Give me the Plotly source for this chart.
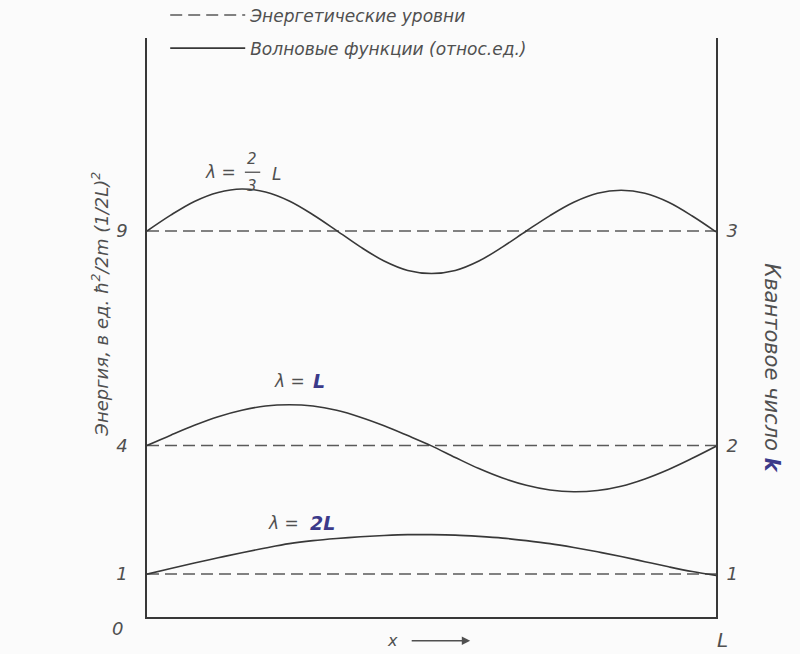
import plotly.graph_objects as go

# ---- data ----
x_pos = [0.0, 0.0417, 0.0833, 0.125, 0.1667, 0.2083, 0.25, 0.2917, 0.3333,
         0.375, 0.4167, 0.4583, 0.5, 0.5417, 0.5833, 0.625, 0.6667, 0.7083,
         0.75, 0.7917, 0.8333, 0.875, 0.9167, 0.9583, 1.0]
psi_n1 = [1.00, 1.13, 1.26, 1.38, 1.50, 1.61, 1.71, 1.78, 1.83, 1.87, 1.90, 1.92,
          1.92, 1.91, 1.88, 1.84, 1.78, 1.71, 1.62, 1.52, 1.41, 1.29, 1.17, 1.06, 0.97]
psi_n2 = [4.00, 4.24, 4.47, 4.67, 4.82, 4.92, 4.95, 4.92, 4.82, 4.66, 4.46, 4.23,
          3.99, 3.72, 3.46, 3.24, 3.07, 2.96, 2.92, 2.95, 3.05, 3.22, 3.44, 3.70, 3.98]
psi_n3 = [9.00, 9.37, 9.69, 9.90, 9.98, 9.91, 9.70, 9.38, 9.01, 8.63, 8.30, 8.08,
          8.01, 8.08, 8.30, 8.63, 9.00, 9.36, 9.67, 9.88, 9.95, 9.88, 9.67, 9.35, 8.98]
energy_levels = [1, 4, 9]
quantum_numbers = ["1", "2", "3"]
x_ends = [0.0, 1.0]

LINE = "#383838"
TXT = "#505050"
INK = "#3b3a8a"
FONT = "DejaVu Sans"

fig = go.Figure()

# energy levels (dashed)
for i, E in enumerate(energy_levels):
    fig.add_trace(go.Scatter(
        x=x_ends, y=[E, E], mode="lines",
        line=dict(color="#5a5a5a", width=1.5, dash="12px,6px"),
        name="Энергетические уровни", legendgroup="levels",
        showlegend=(i == 0), hoverinfo="skip"))

# wave functions (solid)
for i, psi in enumerate([psi_n1, psi_n2, psi_n3]):
    fig.add_trace(go.Scatter(
        x=x_pos, y=psi, mode="lines", line_shape="spline",
        line=dict(color=LINE, width=1.6),
        name="Волновые функции (относ.ед.)", legendgroup="waves",
        showlegend=(i == 0)))

# invisible trace to activate right axis
fig.add_trace(go.Scatter(x=[None], y=[None], yaxis="y2", showlegend=False))

YMAX = 13.5
fig.update_layout(
    width=800, height=654,
    margin=dict(l=147, r=84, t=38, b=37, autoexpand=False),
    paper_bgcolor="#fbfbfb", plot_bgcolor="#fbfbfb",
    font=dict(family=FONT, color=TXT, size=16, style="italic"),
    xaxis=dict(range=[0, 1], showgrid=False, zeroline=False, showticklabels=False,
               showline=True, linecolor=LINE, linewidth=1.6, ticks=""),
    yaxis=dict(range=[0, YMAX], showgrid=False, zeroline=False,
               showline=True, linecolor=LINE, linewidth=1.6,
               tickvals=energy_levels, ticktext=[str(v) for v in energy_levels],
               ticks="", ticklabelstandoff=14,
               tickfont=dict(size=18, family=FONT, color=TXT, style="italic")),
    yaxis2=dict(range=[0, YMAX], overlaying="y", side="right", showgrid=False,
                zeroline=False, showline=True, linecolor=LINE, linewidth=1.6,
                tickvals=energy_levels, ticktext=quantum_numbers,
                ticks="", ticklabelstandoff=5,
                tickfont=dict(size=18, family=FONT, color=TXT, style="italic")),
    showlegend=True,
    legend=dict(x=0.032, y=1.07, xanchor="left", yanchor="top",
                bgcolor="rgba(0,0,0,0)", itemwidth=75, tracegroupgap=8,
                traceorder="grouped",
                font=dict(size=17, family=FONT, color=TXT, style="italic")),
)

ann = []
def add(text, x, y, size=17, color=TXT, xref="x", yref="y", angle=0, **kw):
    ann.append(dict(text=text, x=x, y=y, xref=xref, yref=yref, showarrow=False,
                    textangle=angle, xanchor="center", yanchor="middle",
                    font=dict(size=size, color=color, family=FONT, style="italic"), **kw))

# curve labels
add("λ =", 0.13, 10.37)
add("2", 0.185, 10.68, size=15)
add("3", 0.185, 10.04, size=15)
add("L", 0.228, 10.33)
fig.add_shape(type="line", x0=0.172, x1=0.199, y0=10.37, y1=10.37,
              line=dict(color=TXT, width=1.3))
add("λ =", 0.251, 5.5)
add("<b>L</b>", 0.302, 5.5, size=19, color=INK)
add("λ =", 0.24, 2.2)
add("<b>2L</b>", 0.308, 2.2, size=19, color=INK)

# axis end labels (paper coordinates, below / beside the frame)
add("0", -0.051, -0.019, size=18, xref="paper", yref="paper")
add("L", 1.012, -0.04, size=20, xref="paper", yref="paper")
add("x", 0.432, -0.041, size=16, xref="paper", yref="paper")
ann.append(dict(x=0.568, y=-0.041, xref="paper", yref="paper", ax=-60, ay=0,
                text="", showarrow=True, arrowhead=2, arrowsize=1.2,
                arrowwidth=1.4, arrowcolor=TXT))

# axis titles
add("Энергия, в ед. <i>ħ</i><sup>2</sup>/2<i>m</i> (1/2<i>L</i>)<sup>2</sup>",
    -0.082, 0.54, size=18, xref="paper", yref="paper", angle=-90)
add("Квантовое число <b><span style='color:%s'>k</span></b>" % INK,
    1.098, 0.43, size=21, xref="paper", yref="paper", angle=90)

fig.update_layout(annotations=ann)
fig.write_html("out.html")
